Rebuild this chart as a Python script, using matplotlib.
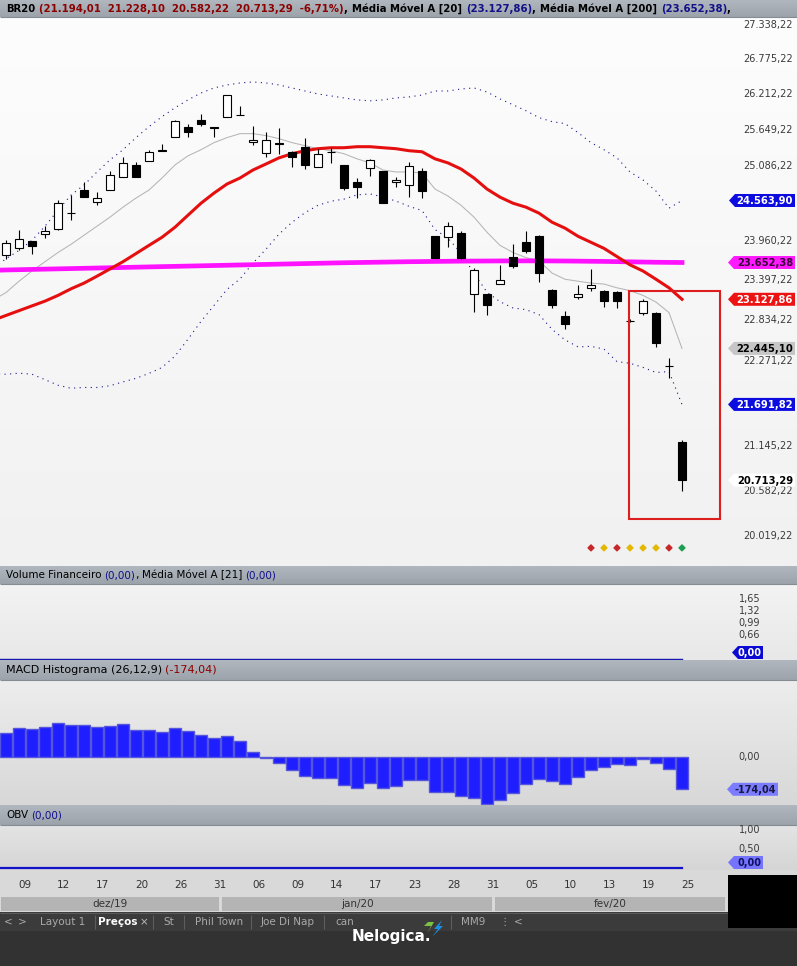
import numpy as np
import matplotlib
matplotlib.use("Agg")
import matplotlib.pyplot as plt
from matplotlib.patches import Rectangle, Polygon
from matplotlib.transforms import IdentityTransform, blended_transform_factory
from matplotlib.ticker import NullLocator
from matplotlib.colors import to_rgb

W, H = 797, 966

# daily candles of BR20, oldest first
opens = [23768, 23856, 23960, 24064, 24138, 24380, 24721, 24539, 24721, 24919,
         25102, 25164, 25315, 25540, 25696, 25805, 25690, 25852, 25880, 25461,
         25289, 25425, 25304, 25383, 25071, 25300, 25102, 24843, 25056, 25010,
         24843, 24797, 25010, 24034, 24020, 24079, 23196, 23196, 23343, 23738,
         23945, 24034, 23263, 22888, 23156, 23290, 23250, 23236, 22822, 22941,
         22941, 22210, 21194.01]
highs = [23975, 24123, 23965, 24183, 24569, 24645, 24843, 24691, 25010, 25226,
         25148, 25336, 25430, 25800, 25743, 25899, 25696, 26200, 26025, 25711,
         25618, 25680, 25310, 25524, 25351, 25367, 25108, 24904, 25195, 25015,
         24919, 25148, 25056, 24040, 24242, 24109, 23575, 23200, 23620, 23916,
         24109, 24049, 23270, 22968, 23330, 23558, 23255, 23240, 22847, 23129,
         22950, 22312, 21228.10]
lows = [23708, 23827, 23782, 24005, 24130, 24271, 24610, 24493, 24715, 24915,
        24915, 25160, 25310, 25535, 25540, 25711, 25540, 25850, 25880, 25415,
        25226, 25273, 25071, 25040, 25065, 25133, 24721, 24600, 24934, 24520,
        24767, 24615, 24600, 23720, 23871, 23708, 22955, 22914, 23340, 23575,
        23797, 23370, 23008, 22711, 23129, 23250, 23022, 23008, 22806, 22914,
        22464, 22043, 20582.22]
closes = [23930, 23990, 23886, 24109, 24523, 24370, 24615, 24600, 24949, 25133,
          24919, 25304, 25325, 25790, 25618, 25743, 25680, 26196, 25886, 25493,
          25493, 25435, 25226, 25102, 25273, 25308, 24752, 24767, 25180, 24523,
          24873, 25086, 24706, 23723, 24183, 23723, 23545, 23048, 23397, 23605,
          23812, 23501, 23048, 22779, 23196, 23330, 23102, 23102, 22818, 23102,
          22519, 22203, 20713.29]

# indicator lines, first value is one bar before the first candle on screen
ma20 = [22834, 22901, 22968, 23035, 23102, 23183, 23276, 23357, 23456, 23560,
        23664, 23782, 23901, 24019, 24167, 24345, 24523, 24675, 24812, 24903,
        25025, 25117, 25211, 25274, 25321, 25352, 25367, 25367, 25383, 25383,
        25367, 25352, 25321, 25305, 25196, 25133, 25040, 24903, 24736, 24614,
        24523, 24464, 24375, 24241, 24153, 24034, 23945, 23857, 23738, 23619,
        23530, 23412, 23290, 23127.86]
ma200 = [23540, 23545, 23549, 23553, 23557, 23561, 23565, 23569, 23573, 23577,
         23581, 23585, 23589, 23593, 23597, 23601, 23605, 23609, 23613, 23617,
         23621, 23625, 23629, 23633, 23637, 23641, 23645, 23649, 23652, 23655,
         23658, 23661, 23664, 23666, 23668, 23670, 23672, 23673, 23674, 23675,
         23676, 23676, 23676, 23675, 23674, 23672, 23670, 23668, 23665, 23662,
         23659, 23656, 23654, 23652.38]
ma9 = [23116, 23223, 23384, 23530, 23664, 23797, 23916, 24049, 24182, 24316,
       24464, 24600, 24721, 24903, 25102, 25242, 25336, 25446, 25524, 25586,
       25586, 25555, 25508, 25446, 25399, 25352, 25321, 25274, 25196, 25133,
       25025, 24995, 24995, 24979, 24736, 24630, 24493, 24316, 24093, 23901,
       23797, 23723, 23678, 23501, 23412, 23384, 23357, 23344, 23290, 23250,
       23183, 23089, 22941, 22445.10]
bb_upper = [23560, 23708, 23827, 23975, 24182, 24419, 24645, 24797, 24995, 25180,
            25336, 25524, 25696, 25852, 25993, 26118, 26228, 26309, 26357, 26389,
            26405, 26389, 26357, 26309, 26260, 26212, 26181, 26149, 26118, 26103,
            26118, 26149, 26165, 26196, 26260, 26260, 26292, 26309, 26244, 26134,
            26040, 25946, 25837, 25774, 25743, 25602, 25446, 25336, 25211, 24995,
            24873, 24706, 24449, 24563.90]
bb_lower = [22108, 22094, 22109, 22095, 22022, 21947, 21907, 21917, 21917, 21940,
            21992, 22040, 22106, 22186, 22341, 22572, 22818, 23041, 23267, 23417,
            23645, 23845, 24065, 24239, 24382, 24492, 24553, 24585, 24648, 24663,
            24616, 24555, 24477, 24414, 24132, 24006, 23788, 23497, 23228, 23094,
            23006, 22982, 22913, 22708, 22563, 22466, 22474, 22436, 22265, 22243,
            22187, 22118, 22131, 21691.82]

macd_hist = [128, 155, 151, 160, 182, 172, 172, 163, 169, 176,
             146, 146, 136, 155, 140, 119, 101, 113, 86, 29,
             -3, -34, -70, -102, -115, -115, -151, -169, -142, -169,
             -156, -124, -124, -187, -187, -210, -223, -253, -232, -192,
             -146, -119, -128, -146, -109, -70, -56, -38, -43, -12,
             -34, -65, -174.04]
volume = [0.0] * 54
obv = [0.0] * 54

day_labels = ["09", "12", "17", "20", "26", "31", "06", "09", "14", "17",
              "23", "28", "31", "05", "10", "13", "19", "25"]
months = ["dez/19", "jan/20", "fev/20"]
month_first_bar = [0, 17, 38]
signal_colors = ["#c62828", "#e3b800", "#c62828", "#e3b800", "#e3b800",
                 "#e3b800", "#c62828", "#1e9e50"]

# scale labels left visible (the others sit under the value tags)
price_ticks = [27338.22, 26775.22, 26212.22, 25649.22, 25086.22, 23960.22,
               23397.22, 22834.22, 22271.22, 21145.22, 20582.22, 20019.22]
vol_ticks = [1.65, 1.32, 0.99, 0.66]
obv_ticks = [1.00, 0.50]


def br(v):
    s = f"{v:,.2f}"
    return s.replace(",", "#").replace(".", ",").replace("#", ".")


fig = plt.figure(figsize=(W / 100, H / 100), dpi=100)
fig.patch.set_facecolor("#333333")
renderer = fig.canvas.get_renderer()

# background layer in pixel units
bg = fig.add_axes([0, 0, 1, 1])
bg.set_xlim(0, W)
bg.set_ylim(H, 0)
bg.axis("off")


def band(y0, y1, top, bot, x0=0, x1=W):
    grad = np.linspace(to_rgb(top), to_rgb(bot), 64).reshape(64, 1, 3)
    bg.imshow(grad, extent=(x0, x1, y1, y0), aspect="auto", interpolation="bilinear", zorder=0)


def header_bar(y0, y1):
    band(y0, y1, "#b0b7be", "#9ca3aa")
    bg.hlines(y1 - 0.5, 0, W, color="#858b92", lw=0.8, zorder=2)


def header_text(x, y, parts, size, weight="normal"):
    for s, color, gap in parts:
        x += gap
        t = bg.text(x, y, s, color=color, fontsize=size, fontweight=weight,
                    ha="left", va="center", zorder=5)
        x += t.get_window_extent(renderer).width


header_bar(0, 17)
band(17, 566, "#fdfdfd", "#f1f1f1")
header_bar(566, 584)
band(584, 660, "#f3f3f3", "#e8e8e8")
header_bar(660, 680)
band(680, 805, "#ededed", "#d8d8d8")
header_bar(805, 825)
band(825, 870, "#e4e4e4", "#d5d5d5")
bg.add_patch(Rectangle((0, 870), W, 42, facecolor="#d9d9d9", edgecolor="none", zorder=1))
bg.add_patch(Rectangle((0, 912), W, 54, facecolor="#323232", edgecolor="none", zorder=1))
bg.add_patch(Rectangle((0, 912), W, 19, facecolor="#3b3b3b", edgecolor="none", zorder=1))
bg.hlines(912.5, 0, W, color="#5a5a5a", lw=0.8, zorder=2)

X0, X1 = -6 / 13, 791 / 13


def data_axes(y0, y1):
    ax = fig.add_axes([0, 1 - y1 / H, 1, (y1 - y0) / H])
    ax.set_facecolor("none")
    for s in ax.spines.values():
        s.set_visible(False)
    ax.set_xlim(X0, X1)
    ax.tick_params(which="both", length=0, labelbottom=False, labelleft=False)
    return ax


def tag(ax, value, text, face, tcolor, x_tip, x_right, fs=7.2, h=13):
    yc = ax.transData.transform((0, value))[1]
    # keep the tag inside its panel, as the platform does
    y_bottom = ax.get_window_extent(renderer).y0
    yc = max(yc, y_bottom + h / 2 + 1)
    verts = [(x_tip, yc), (x_tip + 6, yc + h / 2), (x_right, yc + h / 2),
             (x_right, yc - h / 2), (x_tip + 6, yc - h / 2)]
    fig.add_artist(Polygon(verts, closed=True, facecolor=face, edgecolor="none",
                           transform=IdentityTransform(), zorder=5))
    fig.text(x_right - 2, yc - 0.5, text, transform=IdentityTransform(), ha="right",
             va="center", fontsize=fs, fontweight="bold", color=tcolor, zorder=6)


# ---- price panel ----
ax = data_axes(17, 566)
ax.set_yscale("log")
ax.set_ylim(19656.5, 27471.9)
ax.yaxis.set_minor_locator(NullLocator())
ax.set_yticks([])
ax.set_xticks([])

xl = np.arange(-1, len(closes))
ax.plot(xl, bb_upper, color="#16168a", lw=0.8, ls=(0, (1, 4)), zorder=2)
ax.plot(xl, bb_lower, color="#16168a", lw=0.8, ls=(0, (1, 4)), zorder=2)
ax.plot(xl, ma9, color="#b5b5b5", lw=0.75, zorder=2)
ax.plot(xl, ma200, color="#ff12ff", lw=3.4, zorder=2)
ax.plot(xl, ma20, color="#e60f0f", lw=2.2, zorder=2)

o = np.array(opens)
hi = np.array(highs)
lo = np.array(lows)
c = np.array(closes)
x = np.arange(len(c))
up = c > o
ax.vlines(x, lo, hi, color="black", lw=0.8, zorder=3)
ax.bar(x[up], (c - o)[up], bottom=o[up], width=0.62, facecolor="white",
       edgecolor="black", lw=0.8, zorder=4)
ax.bar(x[~up], (o - c)[~up], bottom=c[~up], width=0.62, facecolor="black",
       edgecolor="black", lw=0.8, zorder=4)

# highlight box drawn around the last days
ax.add_patch(Rectangle((47.92, 20229), 7.0, 23245 - 20229, facecolor="none",
                       edgecolor="#dd1e1e", lw=1.5, zorder=5))

sig_x = x[-len(signal_colors):]
ax.scatter(sig_x, [0.033] * len(sig_x), c=signal_colors, marker="D", s=9,
           transform=blended_transform_factory(ax.transData, ax.transAxes), zorder=5)

for v in price_ticks:
    ax.text(0.995, v, br(v), transform=ax.get_yaxis_transform(), ha="right",
            va="center", fontsize=7, color="#3a3a3a")

tag(ax, bb_upper[-1], br(bb_upper[-1]), "#0c0ce0", "white", 729, 795)
tag(ax, ma200[-1], br(ma200[-1]), "#ff1aff", "#3a0038", 728, 795)
tag(ax, ma20[-1], br(ma20[-1]), "#ec1313", "white", 728, 795)
tag(ax, ma9[-1], br(ma9[-1]), "#c6c6c6", "black", 728, 795)
tag(ax, bb_lower[-1], br(bb_lower[-1]), "#0c0ce0", "white", 728, 795)
tag(ax, closes[-1], br(closes[-1]), "white", "black", 728, 795)

# ---- volume panel ----
axv = data_axes(584, 660)
axv.set_ylim(-0.0275, 2.06)
axv.set_xticks([])
axv.set_yticks([])
axv.plot(xl, volume, color="#1616b0", lw=1.0, zorder=2)
for v in vol_ticks:
    axv.text(0.954, v, br(v), transform=axv.get_yaxis_transform(), ha="right",
             va="center", fontsize=7, color="#3a3a3a")
tag(axv, volume[-1], br(volume[-1]), "#0a0ad4", "white", 732, 763, fs=7)

# ---- MACD histogram ----
axm = data_axes(680, 805)
axm.set_ylim(-258.7, 415.0)
axm.set_xticks([])
axm.set_yticks([])
axm.bar(x, macd_hist, width=0.94, facecolor="#1e1eff", edgecolor="#5656dc", lw=1.0, zorder=2)
axm.text(0.954, 0, "0,00", transform=axm.get_yaxis_transform(), ha="right",
         va="center", fontsize=7, color="#3a3a3a")
tag(axm, macd_hist[-1], br(macd_hist[-1]), "#7c7cff", "#18183e", 727, 778, fs=7)

# ---- OBV ----
axo = data_axes(825, 870)
axo.set_ylim(-0.053, 1.13)
axo.set_xticks([])
axo.set_yticks([])
axo.plot(xl, obv, color="#1212c8", lw=1.6, zorder=2)
for v in obv_ticks:
    axo.text(0.954, v, br(v), transform=axo.get_yaxis_transform(), ha="right",
             va="center", fontsize=7, color="#3a3a3a")
tag(axo, obv[-1], br(obv[-1]), "#7474ff", "#10105e", 728, 763, fs=7)

# ---- date axis ----
bx = blended_transform_factory(ax.transData, bg.transData)
for i, lab in zip(range(1, len(c), 3), day_labels):
    bg.text(i + 0.42, 885, lab, transform=bx, ha="center", va="center",
            fontsize=7.5, color="#333333", zorder=5)
month_end = month_first_bar[1:] + [55.9]
for name, a, b in zip(months, month_first_bar, month_end):
    left, right = a - 0.38, b - 0.62
    bg.add_patch(Rectangle((left, 897), right - left, 14, transform=bx,
                           facecolor="#b4b4b4", edgecolor="none", zorder=3))
    bg.text((left + right) / 2, 904, name, transform=bx, ha="center", va="center",
            fontsize=7.5, color="#333333", zorder=5)

bg.add_patch(Rectangle((728, 875), 69, 53, facecolor="black", edgecolor="none", zorder=4))

# ---- headers ----
pct = (closes[-1] / closes[-2] - 1) * 100
ohlc = f"({br(opens[-1])}  {br(highs[-1])}  {br(lows[-1])}  {br(closes[-1])}  {br(pct)}%)"
header_text(6, 8.5, [("BR20", "black", 0), (ohlc, "#8c0000", 4), (",", "black", 0),
                     ("Média Móvel A [20]", "black", 4), (f"({br(ma20[-1])})", "#10108a", 4),
                     (",", "black", 0), ("Média Móvel A [200]", "black", 4),
                     (f"({br(ma200[-1])})", "#10108a", 4), (",", "black", 0)],
            7.3, weight="bold")
header_text(6, 575, [("Volume Financeiro", "black", 0), ("(0,00)", "#10108a", 3),
                     (",", "black", 0), ("Média Móvel A [21]", "black", 3),
                     ("(0,00)", "#10108a", 3)], 7.5)
header_text(6, 670, [("MACD Histograma (26,12,9)", "black", 0),
                     (f"({br(macd_hist[-1])})", "#8c0000", 3)], 8)
header_text(6, 815, [("OBV", "black", 0), ("(0,00)", "#10108a", 3)], 7.5)

# ---- tab strip ----
tabs = [("<", 4), (">", 18), ("Layout 1", 40), ("St", 163), ("Phil Town", 195),
        ("Joe Di Nap", 261), ("can", 335), ("MM9", 461), ("\u22ee", 499), ("<", 514)]
for s, xp in tabs:
    bg.text(xp, 922, s, color="#a9a9a9", fontsize=7.5, ha="left", va="center", zorder=5)
bg.text(98, 922, "Preços", color="white", fontsize=7.5, fontweight="bold",
        ha="left", va="center", zorder=5)
bg.text(140, 922, "×", color="#bbbbbb", fontsize=7.5, ha="left", va="center", zorder=5)
bg.vlines([95, 153, 184, 251, 324, 451], 915, 929, color="#5e5e5e", lw=0.8, zorder=5)
bg.text(352, 936, "Nelogica.", color="white", fontsize=11, fontweight="bold",
        ha="left", va="center", zorder=5)
bg.add_patch(Polygon([(436, 914), (424, 926), (431, 926), (427, 934), (434, 922), (428, 922)],
                     facecolor="#7cc242", edgecolor="none", zorder=5))
bg.add_patch(Polygon([(442, 920), (434, 929), (438, 929), (432, 937), (443, 926), (439, 926)],
                     facecolor="#1e8fe0", edgecolor="none", zorder=5))

fig.savefig("out.png", dpi=100, facecolor=fig.get_facecolor())
